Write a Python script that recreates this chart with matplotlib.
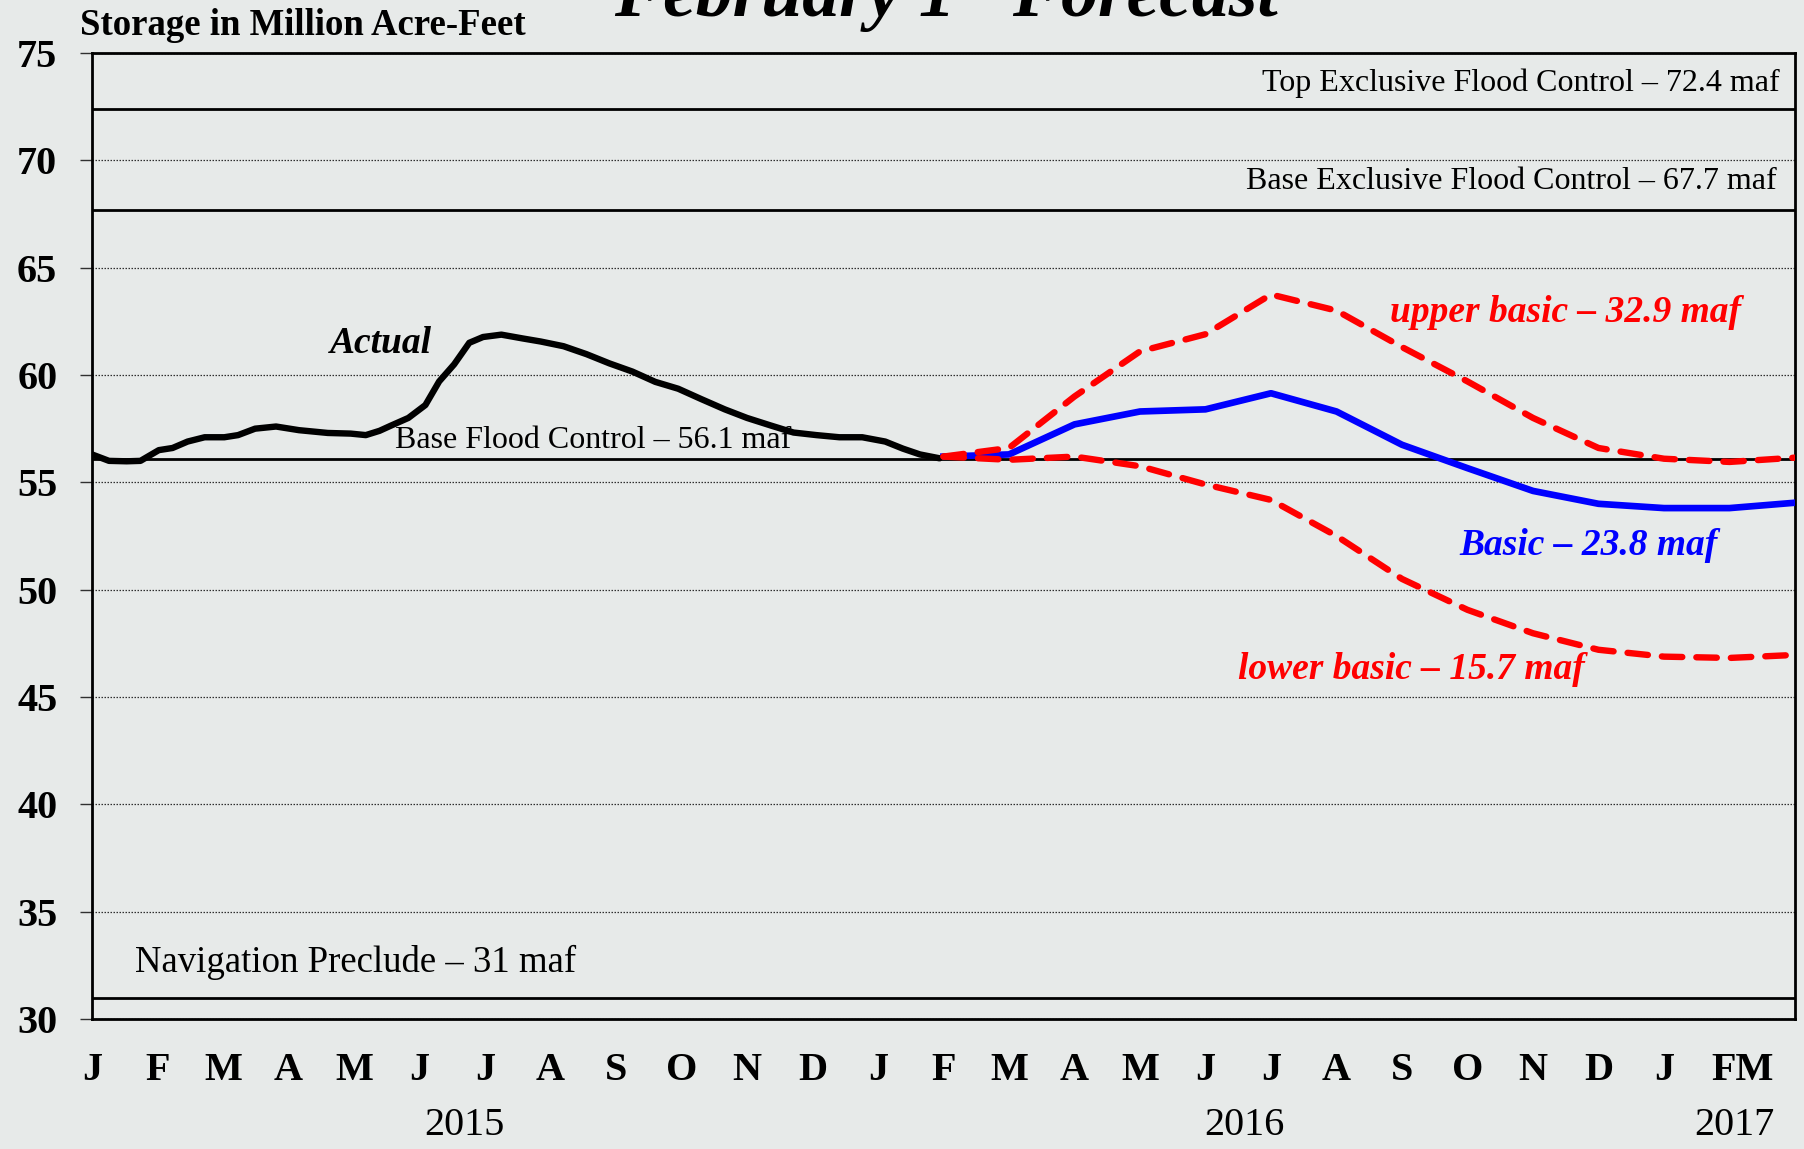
import numpy as np
import matplotlib
matplotlib.use("Agg")
import matplotlib.pyplot as plt
import matplotlib.transforms as mtransforms

# ---------------- data ----------------
month_labels = ["J", "F", "M", "A", "M", "J", "J", "A", "S", "O", "N", "D",
                "J", "F", "M", "A", "M", "J", "J", "A", "S", "O", "N", "D",
                "J", "FM"]
year_labels = ["2015", "2016", "2017"]

actual_months = [0, 0.26, 0.53, 0.74, 1.02, 1.23, 1.46, 1.72, 2.02, 2.23, 2.49,
                 2.81, 3.16, 3.6, 3.95, 4.18, 4.39, 4.57, 4.83, 5.09, 5.30,
                 5.53, 5.76, 5.97, 6.25, 6.58, 6.85, 7.2, 7.55, 7.9, 8.25, 8.6,
                 8.95, 9.3, 9.66, 10.0, 10.36, 10.71, 11.06, 11.41, 11.76,
                 12.11, 12.38, 12.64, 12.94]
actual_values = [56.3, 56.0, 55.98, 56.0, 56.5, 56.6, 56.9, 57.1, 57.1, 57.2,
                 57.5, 57.6, 57.43, 57.3, 57.27, 57.2, 57.4, 57.65, 58.0, 58.6,
                 59.7, 60.5, 61.5, 61.77, 61.88, 61.7, 61.56, 61.34, 60.97,
                 60.54, 60.16, 59.68, 59.36, 58.88, 58.4, 58.0, 57.65, 57.32,
                 57.2, 57.1, 57.1, 56.9, 56.57, 56.3, 56.12]

forecast_months = list(range(13, 27))
basic_values = [56.2, 56.3, 57.7, 58.3, 58.4, 59.15, 58.3, 56.75, 55.66,
                54.6, 54.0, 53.8, 53.8, 54.05]
upper_values = [56.2, 56.6, 59.0, 61.1, 61.9, 63.75, 63.0, 61.3, 59.7, 58.0,
                56.6, 56.1, 55.95, 56.15]
lower_values = [56.2, 56.05, 56.2, 55.75, 54.9, 54.18, 52.5, 50.5, 49.06,
                47.97, 47.2, 46.88, 46.82, 46.96]

zone_levels = [72.4, 67.7, 56.1, 31.0]
zone_texts = ["Top Exclusive Flood Control \u2013 72.4 maf",
              "Base Exclusive Flood Control \u2013 67.7 maf",
              "Base Flood Control \u2013 56.1 maf",
              "Navigation Preclude \u2013 31 maf"]

y_ticks = [30, 35, 40, 45, 50, 55, 60, 65, 70, 75]

# ---------------- style ----------------
plt.rcParams['font.family'] = ['Liberation Serif', 'DejaVu Serif']
bg = '#e7eae9'

fig = plt.figure(figsize=(18.04, 11.49), dpi=100, facecolor=bg)
ax = fig.add_axes([92/1804, 1-1019/1149, (1795-92)/1804, (1019-53)/1149])
ax.set_facecolor(bg)

ax.set_xlim(0, 26)
ax.set_ylim(30, 75)

# gridlines
for yv in y_ticks:
    ax.axhline(yv, color='#303030', lw=0.9, ls=(0, (1.2, 1.2)), zorder=1)

# zone lines
for lv in zone_levels:
    ax.axhline(lv, color='black', lw=2.0, zorder=2)

# series
ax.plot(actual_months, actual_values, color='black', lw=4.6,
        solid_joinstyle='round', solid_capstyle='round', zorder=5)
ax.plot(forecast_months, basic_values, color='#0000ff', lw=4.8,
        solid_joinstyle='round', zorder=4)
ax.plot(forecast_months, upper_values, color='#ff0000', lw=4.6,
        ls=(0, (3.2, 2.2)), dash_capstyle='round', zorder=6)
ax.plot(forecast_months, lower_values, color='#ff0000', lw=4.6,
        ls=(0, (3.2, 2.2)), dash_capstyle='round', zorder=6)

# zone texts
ax.text(25.77, 73.6, zone_texts[0], ha='right', va='center', fontsize=23)
ax.text(25.72, 69.0, zone_texts[1], ha='right', va='center', fontsize=23)
ax.text(4.62, 56.95, zone_texts[2], ha='left', va='center', fontsize=23)
ax.text(0.65, 32.63, zone_texts[3], ha='left', va='center', fontsize=26.5)

# series labels
lab_kw = dict(ha='center', va='center', fontsize=27, fontweight='bold',
              fontstyle='italic')
ax.text(4.41, 61.45, "Actual", color='black', **lab_kw)
ax.text(22.49, 62.9, "upper basic \u2013 32.9 maf", color='#ff0000', **lab_kw)
ax.text(22.84, 52.07, "Basic \u2013 23.8 maf", color='#0000ff', **lab_kw)
ax.text(20.15, 46.3, "lower basic \u2013 15.7 maf", color='#ff0000', **lab_kw)

# ticks
xpos = list(np.arange(len(month_labels) - 1)) + [25.2]
ax.set_xticks(xpos)
ax.set_xticklabels(month_labels, fontsize=29, fontweight='bold')
ax.tick_params(axis='x', length=0, pad=24)
ax.set_yticks(y_ticks)
ax.set_yticklabels([str(v) for v in y_ticks], fontsize=29, fontweight='bold')
ax.tick_params(axis='y', length=9, width=1.0, color='#303030', pad=16)

for s in ax.spines.values():
    s.set_linewidth(2.0)
    s.set_color('black')

# year labels
trans = mtransforms.blended_transform_factory(ax.transData, ax.transAxes)
for xv, lab in zip([5.69, 17.6, 25.07], year_labels):
    ax.text(xv, -0.11, lab, transform=trans, ha='center', va='center',
            fontsize=29)

# axis title
fig.text(80/1804, 1-35/1149, "Storage in Million Acre-Feet", ha='left',
         va='baseline', fontsize=26.5, fontweight='bold')

# main title (cut off at top, as in the reference)
fig.text(614/1804, 1-16/1149, "February 1", ha='left', va='baseline',
         fontsize=53, fontweight='bold', fontstyle='italic')
fig.text(955/1804, 1+14/1149, "st", ha='left', va='baseline',
         fontsize=32, fontweight='bold', fontstyle='italic')
fig.text(1278/1804, 1-16/1149, "Forecast", ha='right', va='baseline',
         fontsize=53, fontweight='bold', fontstyle='italic')

fig.savefig("out.png", dpi=100, facecolor=bg)
